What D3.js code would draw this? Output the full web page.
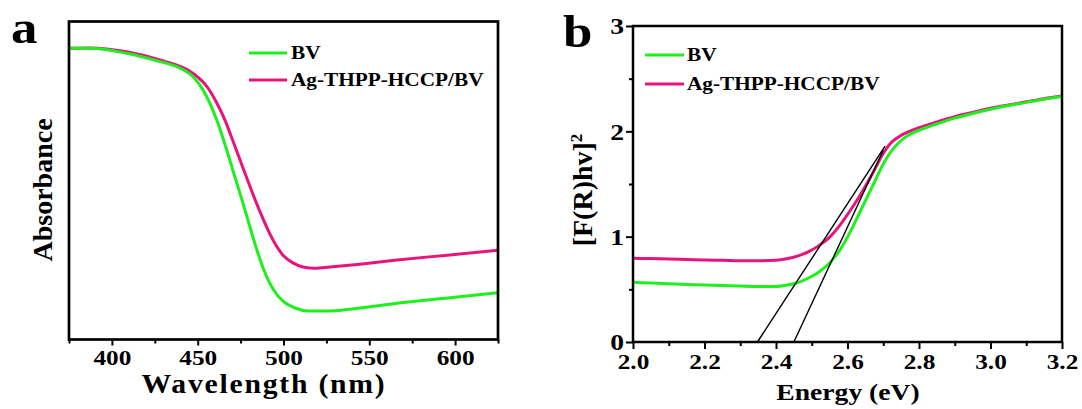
<!DOCTYPE html>
<html>
<head>
<meta charset="utf-8">
<script src="https://cdn.jsdelivr.net/npm/d3@7"></script>
<style>
  html, body { margin: 0; padding: 0; background: #fff; }
  svg { display: block; }
  text { font-family: "Liberation Serif", "Times New Roman", serif; font-weight: bold; fill: #000; }
</style>
</head>
<body>
<svg id="fig" width="1082" height="409"></svg>
<script>
// ---- Panel a: UV-vis absorbance (a.u.) ----
const wavelength = [375, 387.2, 408.6, 428, 437.8, 447.3, 453.1, 457.2, 461.8, 466.9, 471.2, 475.8, 479.9, 484.0, 488.1, 492.1, 496.2, 500.3, 506.7, 514.3, 527.1, 544.6, 566.1, 597, 625];
const absBV      = [0.916, 0.916, 0.900, 0.874, 0.858, 0.826, 0.785, 0.742, 0.680, 0.596, 0.520, 0.439, 0.364, 0.290, 0.225, 0.176, 0.141, 0.118, 0.099, 0.090, 0.090, 0.099, 0.114, 0.131, 0.147];
const wavelengthAg = [375, 387.2, 408.6, 428, 447.3, 455.4, 461.2, 465.9, 470, 474.1, 478.1, 482.2, 486.3, 490.4, 495, 499.7, 505.5, 511.4, 518.4, 527.1, 544.6, 566.1, 597, 625];
const absAg      = [0.916, 0.917, 0.905, 0.879, 0.837, 0.795, 0.743, 0.690, 0.632, 0.573, 0.515, 0.457, 0.402, 0.351, 0.302, 0.265, 0.241, 0.228, 0.224, 0.228, 0.237, 0.250, 0.266, 0.281];
const wlMajorTicks = [400, 450, 500, 550, 600];
const wlMinorTicks = [375, 425, 475, 525, 575, 625];

// ---- Panel b: Tauc plot ----
const energy   = [2.00, 2.05, 2.10, 2.15, 2.20, 2.25, 2.30, 2.35, 2.40, 2.43, 2.46, 2.49, 2.52, 2.55, 2.58, 2.61, 2.64, 2.67, 2.70, 2.72, 2.74, 2.76, 2.78, 2.80, 2.85, 2.90, 2.95, 3.00, 3.05, 3.10, 3.15, 3.20];
const taucBV   = [0.567, 0.560, 0.553, 0.547, 0.541, 0.536, 0.531, 0.527, 0.528, 0.540, 0.562, 0.605, 0.665, 0.750, 0.880, 1.060, 1.270, 1.480, 1.690, 1.800, 1.880, 1.940, 1.980, 2.010, 2.070, 2.125, 2.170, 2.210, 2.245, 2.275, 2.305, 2.330];
const taucAg   = [0.795, 0.792, 0.789, 0.784, 0.779, 0.776, 0.772, 0.771, 0.776, 0.790, 0.815, 0.855, 0.915, 0.995, 1.115, 1.260, 1.420, 1.600, 1.790, 1.885, 1.940, 1.980, 2.010, 2.035, 2.090, 2.140, 2.180, 2.220, 2.250, 2.280, 2.310, 2.335];
// linear extrapolations to the energy axis (band gap estimates)
const fitAgE = [2.348, 2.705];
const fitAgY = [0, 1.86];
const fitBVE = [2.450, 2.700];
const fitBVY = [0, 1.82];
const eMajorTicks = [2.0, 2.2, 2.4, 2.6, 2.8, 3.0, 3.2];
const eMinorTicks = [2.1, 2.3, 2.5, 2.7, 2.9, 3.1];
const yMajorTicks = [0, 1, 2, 3];
const yMinorTicks = [0.5, 1.5, 2.5];

const seriesNames = ["BV", "Ag-THPP-HCCP/BV"];
const GREEN = "#1ef01e";
const PINK = "#e8147c";
const SX = 1.15; // horizontal stretch of the serif lettering

const svg = d3.select("#fig");
svg.append("rect").attr("width", 1082).attr("height", 409).attr("fill", "#fff");

function stretchAxisText(g) {
  g.selectAll(".tick text").attr("transform", `scale(${SX},1)`);
}

// ================= Panel a =================
const xa = d3.scaleLinear().domain([375, 625]).range([69, 498]);
const ya = d3.scaleLinear().domain([0, 1]).range([339.5, 21.5]);
const ga = svg.append("g");

const lineA = (xs, ys) => d3.line().x((d, i) => xa(xs[i])).y((d, i) => ya(ys[i])).curve(d3.curveMonotoneX)(xs);
ga.append("path").attr("d", lineA(wavelengthAg, absAg)).attr("fill", "none").attr("stroke", PINK).attr("stroke-width", 3);
ga.append("path").attr("d", lineA(wavelength, absBV)).attr("fill", "none").attr("stroke", GREEN).attr("stroke-width", 3);

// minor ticks
ga.append("g").attr("transform", `translate(0,${ya(0)})`)
  .call(d3.axisBottom(xa).tickValues(wlMinorTicks).tickSize(4).tickFormat(""))
  .call(g => g.select(".domain").remove())
  .call(g => g.selectAll("line").attr("stroke-width", 2));
// major ticks with labels
ga.append("g").attr("transform", `translate(0,${ya(0)})`)
  .call(d3.axisBottom(xa).tickValues(wlMajorTicks).tickSize(6).tickPadding(4).tickFormat(d3.format("d")))
  .call(g => g.select(".domain").remove())
  .call(g => g.selectAll("line").attr("stroke-width", 2))
  .call(g => g.selectAll("text").attr("font-size", 22).attr("font-family", "Liberation Serif").attr("font-weight", "bold"))
  .call(stretchAxisText);

ga.append("rect").attr("x", xa(375)).attr("y", ya(1)).attr("width", xa(625) - xa(375)).attr("height", ya(0) - ya(1))
  .attr("fill", "none").attr("stroke", "#000").attr("stroke-width", 2.7);

ga.append("text").attr("transform", `translate(264,393) scale(1.1,1)`).attr("text-anchor", "middle")
  .attr("font-size", 27).attr("letter-spacing", 1.6).text("Wavelength (nm)");
ga.append("text").attr("transform", `translate(52,190) rotate(-90)`).attr("text-anchor", "middle")
  .attr("font-size", 28).text("Absorbance");
ga.append("text").attr("transform", `translate(11,43) scale(${SX},1)`).attr("font-size", 46).text("a");

// legend a
const legA = [{ c: GREEN, y: 53 }, { c: PINK, y: 80 }];
legA.forEach((d, i) => {
  ga.append("line").attr("x1", 249).attr("x2", 287).attr("y1", d.y).attr("y2", d.y).attr("stroke", d.c).attr("stroke-width", 3);
  ga.append("text").attr("transform", `translate(291,${d.y}) scale(${SX},1)`).attr("dy", "0.35em")
    .attr("font-size", 18.5).text(seriesNames[i]);
});

// ================= Panel b =================
const xb = d3.scaleLinear().domain([2.0, 3.2]).range([633, 1062]);
const yb = d3.scaleLinear().domain([0, 3]).range([342, 26]);
const gb = svg.append("g");

const lineB = (xs, ys) => d3.line().x((d, i) => xb(xs[i])).y((d, i) => yb(ys[i])).curve(d3.curveMonotoneX)(xs);
gb.append("path").attr("d", lineB(energy, taucAg)).attr("fill", "none").attr("stroke", PINK).attr("stroke-width", 3);
gb.append("path").attr("d", lineB(energy, taucBV)).attr("fill", "none").attr("stroke", GREEN).attr("stroke-width", 3);
gb.append("path").attr("d", lineB(fitAgE, fitAgY)).attr("fill", "none").attr("stroke", "#000").attr("stroke-width", 1.4);
gb.append("path").attr("d", lineB(fitBVE, fitBVY)).attr("fill", "none").attr("stroke", "#000").attr("stroke-width", 1.4);

gb.append("g").attr("transform", `translate(0,${yb(0)})`)
  .call(d3.axisBottom(xb).tickValues(eMinorTicks).tickSize(4).tickFormat(""))
  .call(g => g.select(".domain").remove())
  .call(g => g.selectAll("line").attr("stroke-width", 2));
gb.append("g").attr("transform", `translate(0,${yb(0)})`)
  .call(d3.axisBottom(xb).tickValues(eMajorTicks).tickSize(7).tickPadding(4).tickFormat(d3.format(".1f")))
  .call(g => g.select(".domain").remove())
  .call(g => g.selectAll("line").attr("stroke-width", 2))
  .call(g => g.selectAll("text").attr("font-size", 22).attr("font-family", "Liberation Serif").attr("font-weight", "bold"))
  .call(stretchAxisText);
gb.append("g").attr("transform", `translate(${xb(2.0)},0)`)
  .call(d3.axisLeft(yb).tickValues(yMinorTicks).tickSize(4).tickFormat(""))
  .call(g => g.select(".domain").remove())
  .call(g => g.selectAll("line").attr("stroke-width", 2));
gb.append("g").attr("transform", `translate(${xb(2.0)},0)`)
  .call(d3.axisLeft(yb).tickValues(yMajorTicks).tickSize(7).tickPadding(2).tickFormat(d3.format("d")))
  .call(g => g.select(".domain").remove())
  .call(g => g.selectAll("line").attr("stroke-width", 2))
  .call(g => g.selectAll("text").attr("font-size", 24).attr("font-family", "Liberation Serif").attr("font-weight", "bold")
    .attr("x", -9 / SX))
  .call(stretchAxisText);

gb.append("rect").attr("x", xb(2.0)).attr("y", yb(3)).attr("width", xb(3.2) - xb(2.0)).attr("height", yb(0) - yb(3))
  .attr("fill", "none").attr("stroke", "#000").attr("stroke-width", 2.5);

gb.append("text").attr("transform", `translate(848,400) scale(${SX},1)`).attr("text-anchor", "middle")
  .attr("font-size", 24).text("Energy (eV)");
const yt = gb.append("text").attr("transform", `translate(592,190) rotate(-90)`).attr("text-anchor", "middle")
  .attr("font-size", 28);
yt.append("tspan").text("[F(R)hv]");
yt.append("tspan").attr("font-size", 17).attr("dy", "-0.6em").text("2");
gb.append("text").attr("transform", `translate(563,47) scale(${SX},1)`).attr("font-size", 46).text("b");

const legB = [{ c: GREEN, y: 55 }, { c: PINK, y: 84 }];
legB.forEach((d, i) => {
  gb.append("line").attr("x1", 645).attr("x2", 684).attr("y1", d.y).attr("y2", d.y).attr("stroke", d.c).attr("stroke-width", 3);
  gb.append("text").attr("transform", `translate(687,${d.y}) scale(${SX},1)`).attr("dy", "0.35em")
    .attr("font-size", 18.5).text(seriesNames[i]);
});
</script>
</body>
</html>
